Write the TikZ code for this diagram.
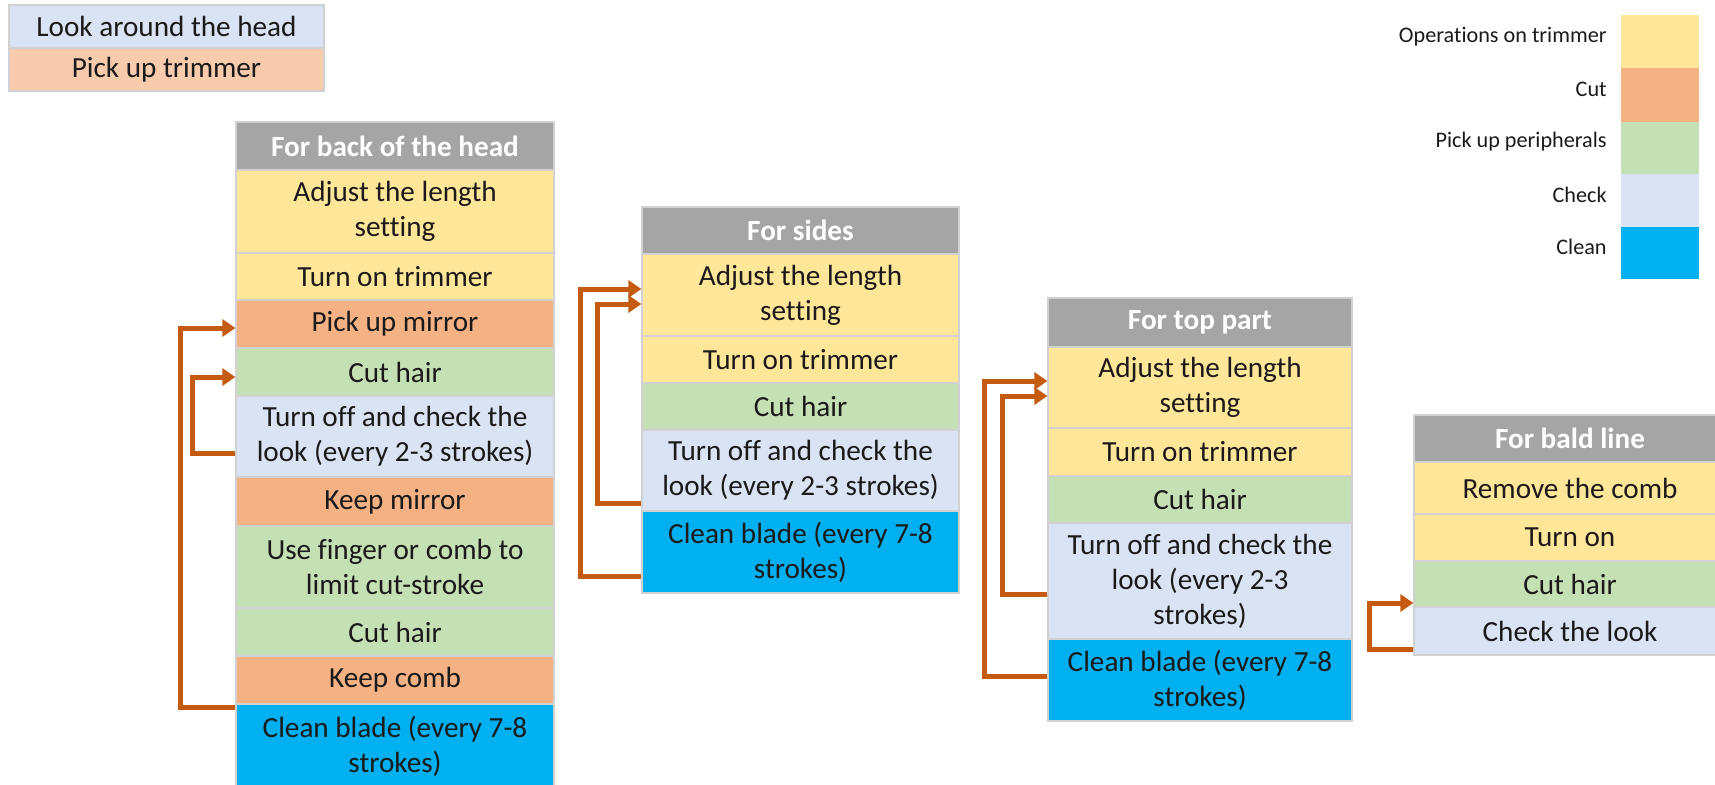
\documentclass[tikz,border=0pt]{standalone}
\usepackage{fontspec}
\setmainfont{Carlito}[Ligatures=CommonOff]
\usetikzlibrary{arrows.meta}
\definecolor{hdr}{HTML}{A5A5A5}
\definecolor{yel}{HTML}{FFE699}
\definecolor{org}{HTML}{F4B183}
\definecolor{lorg}{HTML}{F8CBAD}
\definecolor{grn}{HTML}{C5E0B4}
\definecolor{lbl}{HTML}{DAE3F3}
\definecolor{cln}{HTML}{00B0F0}
\definecolor{arr}{HTML}{C55A11}
\definecolor{txt}{HTML}{1A1A1A}
\tikzset{
  cell/.style={rectangle, draw=black!18, line width=0.6pt, inner sep=0pt, align=center,
    text=txt, font=\fontsize{14.6}{17.5}\selectfont},
  hdrcell/.style={cell, fill=hdr, text=white, font=\fontsize{14.6}{17.5}\selectfont\bfseries},
  cA/.style={minimum width=159pt},
  cB/.style={minimum width=158.5pt},
  cC/.style={minimum width=152pt},
  cD/.style={minimum width=156pt},
  swatch/.style={rectangle, draw=none, inner sep=0pt, minimum width=39pt},
  leglabel/.style={anchor=east, inner sep=0pt, text=txt, font=\fontsize{11.1}{13}\selectfont},
  looparrow/.style={draw=arr, line width=2.5pt, line join=miter, -{Triangle[length=6.5pt,width=8.5pt]}},
}
\begin{document}
\begin{tikzpicture}[x=0.5pt,y=-0.5pt]
\useasboundingbox (0,0) rectangle (1715,784);

% top-left boxes
\node[cell, fill=lbl, minimum width=157.5pt, minimum height=21.5pt] (look) at (166.5,26.5) {Look around the head};
\node[cell, fill=lorg, minimum width=157.5pt, minimum height=21.5pt] (pick) at (166.5,69.5) {Pick up trimmer};

% column 1: back of the head
\node[hdrcell, cA, minimum height=24pt] (h1) at (395,146) {For back of the head};
\node[cell, cA, fill=yel, minimum height=41.5pt] (a1) at (395,211.5) {Adjust the length\\setting};
\node[cell, cA, fill=yel, minimum height=23.5pt] (on1) at (395,276.5) {Turn on trimmer};
\node[cell, cA, fill=org, minimum height=24pt] (mir1) at (395,324) {Pick up mirror};
\node[cell, cA, fill=grn, minimum height=24pt] (cut1) at (395,372) {Cut hair};
\node[cell, cA, fill=lbl, minimum height=40.5pt] (off1) at (395,436.5) {Turn off and check the\\look (every 2-3 strokes)};
\node[cell, cA, fill=org, minimum height=24.5pt] (km1) at (395,501.5) {Keep mirror};
\node[cell, cA, fill=grn, minimum height=41pt] (fin1) at (395,567) {Use finger or comb to\\limit cut-stroke};
\node[cell, cA, fill=grn, minimum height=24pt] (cutb1) at (395,632) {Cut hair};
\node[cell, cA, fill=org, minimum height=24pt] (kc1) at (395,680) {Keep comb};
\node[cell, cA, fill=cln, minimum height=42pt] (cl1) at (395,746) {Clean blade (every 7-8\\strokes)};

% column 2: sides
\node[hdrcell, cB, minimum height=23.5pt] (h2) at (800.5,230.5) {For sides};
\node[cell, cB, fill=yel, minimum height=41pt] (a2) at (800.5,295) {Adjust the length\\setting};
\node[cell, cB, fill=yel, minimum height=23.5pt] (on2) at (800.5,359.5) {Turn on trimmer};
\node[cell, cB, fill=grn, minimum height=23.5pt] (cut2) at (800.5,406.5) {Cut hair};
\node[cell, cB, fill=lbl, minimum height=40.5pt] (off2) at (800.5,470.5) {Turn off and check the\\look (every 2-3 strokes)};
\node[cell, cB, fill=cln, minimum height=41pt] (cl2) at (800.5,552) {Clean blade (every 7-8\\strokes)};

% column 3: top part
\node[hdrcell, cC, minimum height=24.5pt] (h3) at (1200,322.5) {For top part};
\node[cell, cC, fill=yel, minimum height=40.5pt] (a3) at (1200,387.5) {Adjust the length\\setting};
\node[cell, cC, fill=yel, minimum height=24pt] (on3) at (1200,452) {Turn on trimmer};
\node[cell, cC, fill=grn, minimum height=23.5pt] (cut3) at (1200,499.5) {Cut hair};
\node[cell, cC, fill=lbl, minimum height=58pt] (off3) at (1200,581) {Turn off and check the\\look (every 2-3\\strokes)};
\node[cell, cC, fill=cln, minimum height=41pt] (cl3) at (1200,680) {Clean blade (every 7-8\\strokes)};

% column 4: bald line
\node[hdrcell, cD, minimum height=23.5pt] (h4) at (1570,438.5) {For bald line};
\node[cell, cD, fill=yel, minimum height=26pt] (rm4) at (1570,488) {Remove the comb};
\node[cell, cD, fill=yel, minimum height=23.5pt] (on4) at (1570,537.5) {Turn on};
\node[cell, cD, fill=grn, minimum height=23pt] (cut4) at (1570,584) {Cut hair};
\node[cell, cD, fill=lbl, minimum height=24pt] (chk4) at (1570,631) {Check the look};

% loop arrows
\draw[looparrow] ([yshift=-2pt]cl1.north west) -- ++(-55,0) |- ([yshift=-2pt]mir1.west);
\draw[looparrow] ([yshift=-8.25pt]off1.west) -- ++(-43,0) |- ([yshift=-2.5pt]cut1.west);
\draw[looparrow] ([yshift=-12pt]cl2.west) -- ++(-61,0) |- ([yshift=3pt]a2.west);
\draw[looparrow] ([yshift=-16.25pt]off2.west) -- ++(-44,0) |- ([yshift=-4.5pt]a2.west);
\draw[looparrow] ([yshift=2pt]cl3.west) -- ++(-63,0) |- ([yshift=3.25pt]a3.west);
\draw[looparrow] ([yshift=-6.5pt]off3.west) -- ++(-45,0) |- ([yshift=-4.25pt]a3.west);
\draw[looparrow] ([yshift=-9pt]chk4.west) -- ++(-44,0) |- ([yshift=-9.5pt]cut4.west);

% legend
\node[swatch, fill=yel, minimum height=26.5pt] (s1) at (1660,41.5) {};
\node[swatch, fill=org, minimum height=27pt] (s2) at (1660,95) {};
\node[swatch, fill=grn, minimum height=26pt] (s3) at (1660,148) {};
\node[swatch, fill=lbl, minimum height=26.5pt] (s4) at (1660,200.5) {};
\node[swatch, fill=cln, minimum height=26pt] (s5) at (1660,253) {};
\node[leglabel] (l1) at (1607,37) {Operations on trimmer};
\node[leglabel] (l2) at (1607,89) {Cut};
\node[leglabel] (l3) at (1607,142) {Pick up peripherals};
\node[leglabel] (l4) at (1607,195) {Check};
\node[leglabel] (l5) at (1607,247) {Clean};
\end{tikzpicture}
\end{document}
